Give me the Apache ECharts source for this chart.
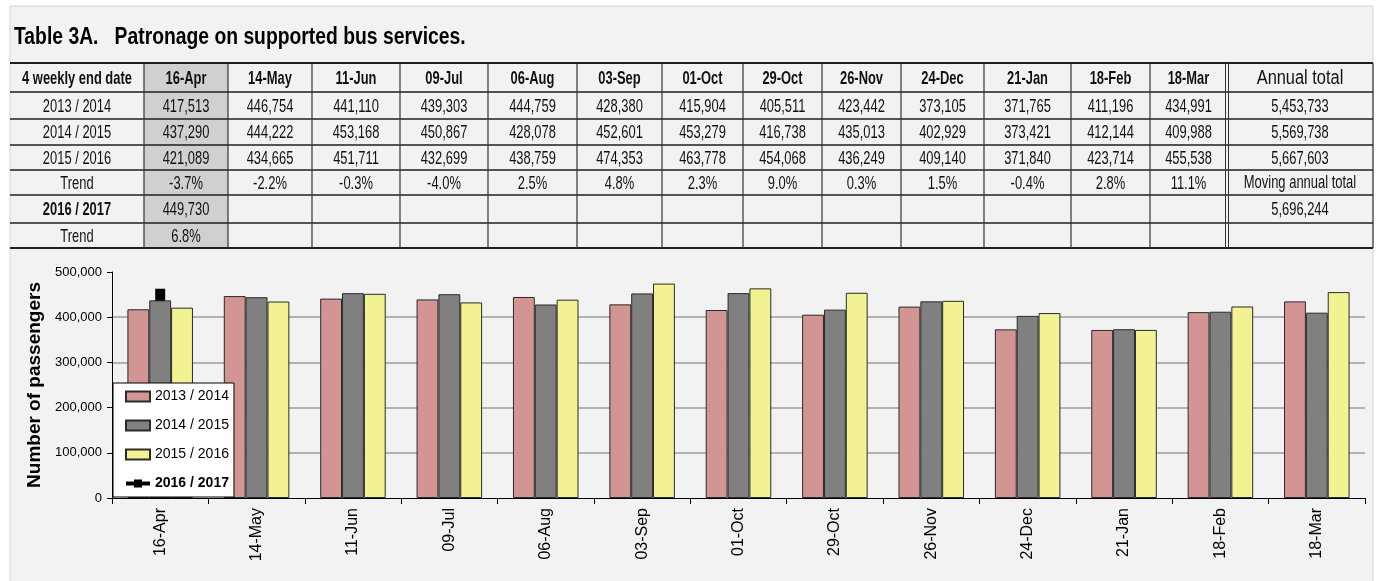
<!DOCTYPE html>
<html>
<head>
<meta charset="utf-8">
<script src="https://cdn.jsdelivr.net/npm/echarts@6/dist/echarts.min.js"></script>
<style>
html, body { margin: 0; padding: 0; background: #fff; }
#main { width: 1376px; height: 581px; }
</style>
</head>
<body>
<div id="main"></div>
<script>
// 4 weekly end dates
var categories = ['16-Apr', '14-May', '11-Jun', '09-Jul', '06-Aug', '03-Sep', '01-Oct',
                  '29-Oct', '26-Nov', '24-Dec', '21-Jan', '18-Feb', '18-Mar'];
var seriesNames = ['2013 / 2014', '2014 / 2015', '2015 / 2016', '2016 / 2017'];
var y2013 = [417513, 446754, 441110, 439303, 444759, 428380, 415904, 405511, 423442, 373105, 371765, 411196, 434991];
var y2014 = [437290, 444222, 453168, 450867, 428078, 452601, 453279, 416738, 435013, 402929, 373421, 412144, 409988];
var y2015 = [421089, 434665, 451711, 432699, 438759, 474353, 463778, 454068, 436249, 409140, 371840, 423714, 455538];
var trend = ['-3.7%', '-2.2%', '-0.3%', '-4.0%', '2.5%', '4.8%', '2.3%', '9.0%', '0.3%', '1.5%', '-0.4%', '2.8%', '11.1%'];
var y2016 = [449730, null, null, null, null, null, null, null, null, null, null, null, null];
var trend2016 = ['6.8%', '', '', '', '', '', '', '', '', '', '', '', ''];
var annualTotals = [5453733, 5569738, 5667603];
var movingAnnualTotal = 5696244;
var yTicks = [0, 100000, 200000, 300000, 400000, 500000];

var ARIAL = "'Liberation Sans', Arial, sans-serif";

function fmt(v) {
    if (v === null || v === undefined) return '';
    return String(v).replace(/\B(?=(\d{3})+(?!\d))/g, ',');
}

// table layout (narrow text = Arial squeezed horizontally)
var colX = [10, 144, 228, 312, 400, 488, 577, 662, 743, 822, 901, 984, 1071, 1150, 1227, 1373];
var rowY = [63, 92, 119, 145, 170, 195, 223, 248];
var cellFont = { size: 19, sx: 0.68 };

var rows = [
    { label: '4 weekly end date', bold: true, cells: categories, cellBold: true, total: 'Annual total', totalFont: { size: 20, sx: 0.82 } },
    { label: seriesNames[0], cells: y2013.map(fmt), total: fmt(annualTotals[0]) },
    { label: seriesNames[1], cells: y2014.map(fmt), total: fmt(annualTotals[1]) },
    { label: seriesNames[2], cells: y2015.map(fmt), total: fmt(annualTotals[2]) },
    { label: 'Trend', cells: trend, total: 'Moving annual total', totalFont: { size: 18, sx: 0.72 } },
    { label: seriesNames[3], bold: true, cells: y2016.map(fmt), total: fmt(movingAnnualTotal) },
    { label: 'Trend', cells: trend2016, total: '' }
];

var g = [];
// panel
g.push({ type: 'rect', silent: true, z: -10, shape: { x: 10, y: 6, width: 1363, height: 590 },
         style: { fill: '#f2f2f2', stroke: '#d4d4d4', lineWidth: 1 } });
g.push({ type: 'text', silent: true, x: 14, y: 38, scaleX: 0.84,
         style: { text: 'Table 3A.   Patronage on supported bus services.', font: 'bold 23px ' + ARIAL,
                  fill: '#000', textAlign: 'left', textVerticalAlign: 'middle' } });
// shaded current column
g.push({ type: 'rect', silent: true, shape: { x: colX[1], y: rowY[0], width: colX[2] - colX[1], height: rowY[7] - rowY[0] },
         style: { fill: '#d0d0d0' } });

rows.forEach(function (r, i) {
    var cy = (rowY[i] + rowY[i + 1]) / 2 + 1;
    var texts = [r.label].concat(r.cells).concat([r.total]);
    texts.forEach(function (t, j) {
        if (!t) return;
        var f = cellFont, bold = false;
        if (j === 0 && r.bold) bold = true;
        if (j > 0 && j <= categories.length && r.cellBold) bold = true;
        if (j === texts.length - 1 && r.totalFont) f = r.totalFont;
        g.push({ type: 'text', silent: true, x: (colX[j] + colX[j + 1]) / 2, y: cy, scaleX: f.sx,
                 style: { text: t, font: (bold ? 'bold ' : '') + f.size + 'px ' + ARIAL, fill: '#111',
                          textAlign: 'center', textVerticalAlign: 'middle' } });
    });
});

rowY.forEach(function (y, i) {
    g.push({ type: 'line', silent: true, shape: { x1: 10, y1: y, x2: 1373, y2: y },
             style: { stroke: '#1e1e1e', lineWidth: (i === 0 || i === rowY.length - 1) ? 2 : 1.5 } });
});
colX.forEach(function (x, i) {
    if (i === 0) return;
    if (i === 14) {
        [x - 1.5, x + 1.5].forEach(function (xx) {
            g.push({ type: 'line', silent: true, shape: { x1: xx, y1: rowY[0], x2: xx, y2: rowY[7] },
                     style: { stroke: '#333', lineWidth: 1 } });
        });
        return;
    }
    g.push({ type: 'line', silent: true, shape: { x1: x, y1: rowY[0], x2: x, y2: rowY[7] },
             style: { stroke: '#333', lineWidth: 1.2 } });
});

var barStyle = function (c) {
    return { color: c, borderColor: '#2a2a2a', borderWidth: 1 };
};

var chart = echarts.init(document.getElementById('main'));
chart.setOption({
    animation: false,
    backgroundColor: '#fff',
    graphic: g,
    grid: { left: 112, top: 272, right: 11, bottom: 83 },
    legend: {
        orient: 'vertical',
        left: 113, top: 383,
        backgroundColor: '#fff',
        borderColor: '#000', borderWidth: 1, borderRadius: 0,
        padding: [5, 5, 5, 11],
        itemWidth: 24, itemHeight: 10, itemGap: 12,
        textStyle: { fontFamily: ARIAL, fontSize: 14, lineHeight: 17, color: '#000' },
        data: [
            { name: seriesNames[0], icon: 'rect' },
            { name: seriesNames[1], icon: 'rect' },
            { name: seriesNames[2], icon: 'rect' },
            { name: seriesNames[3], textStyle: { fontWeight: 'bold' }, lineStyle: { width: 4 } }
        ]
    },
    xAxis: {
        type: 'category',
        data: categories,
        axisLine: { lineStyle: { color: '#000', width: 1 } },
        axisTick: { show: true, length: 6, lineStyle: { color: '#000' } },
        axisLabel: { rotate: 90, margin: 10, fontFamily: ARIAL, fontSize: 16, color: '#000' }
    },
    yAxis: {
        type: 'value',
        min: yTicks[0], max: yTicks[yTicks.length - 1], interval: yTicks[1] - yTicks[0],
        name: 'Number of passengers',
        nameLocation: 'middle', nameGap: 65,
        nameTextStyle: { fontFamily: ARIAL, fontSize: 19, fontWeight: 'bold', color: '#000' },
        axisLine: { show: true, lineStyle: { color: '#000', width: 1 } },
        axisTick: { show: true, length: 5, lineStyle: { color: '#000' } },
        axisLabel: { margin: 10, fontFamily: ARIAL, fontSize: 13, color: '#000', formatter: fmt },
        splitLine: { show: true, showMaxLine: false, showMinLine: false, lineStyle: { color: '#9c9c9c', width: 1.5 } }
    },
    series: [
        { name: seriesNames[0], type: 'bar', data: y2013, barGap: '0%', barCategoryGap: '32%', itemStyle: barStyle('#d39494') },
        { name: seriesNames[1], type: 'bar', data: y2014, itemStyle: barStyle('#808080') },
        { name: seriesNames[2], type: 'bar', data: y2015, itemStyle: barStyle('#f2f293') },
        { name: seriesNames[3], type: 'line', data: y2016, symbol: 'rect', symbolSize: [10, 12],
          itemStyle: { color: '#000' }, lineStyle: { color: '#000', width: 3 }, z: 5 }
    ]
});
</script>
</body>
</html>
